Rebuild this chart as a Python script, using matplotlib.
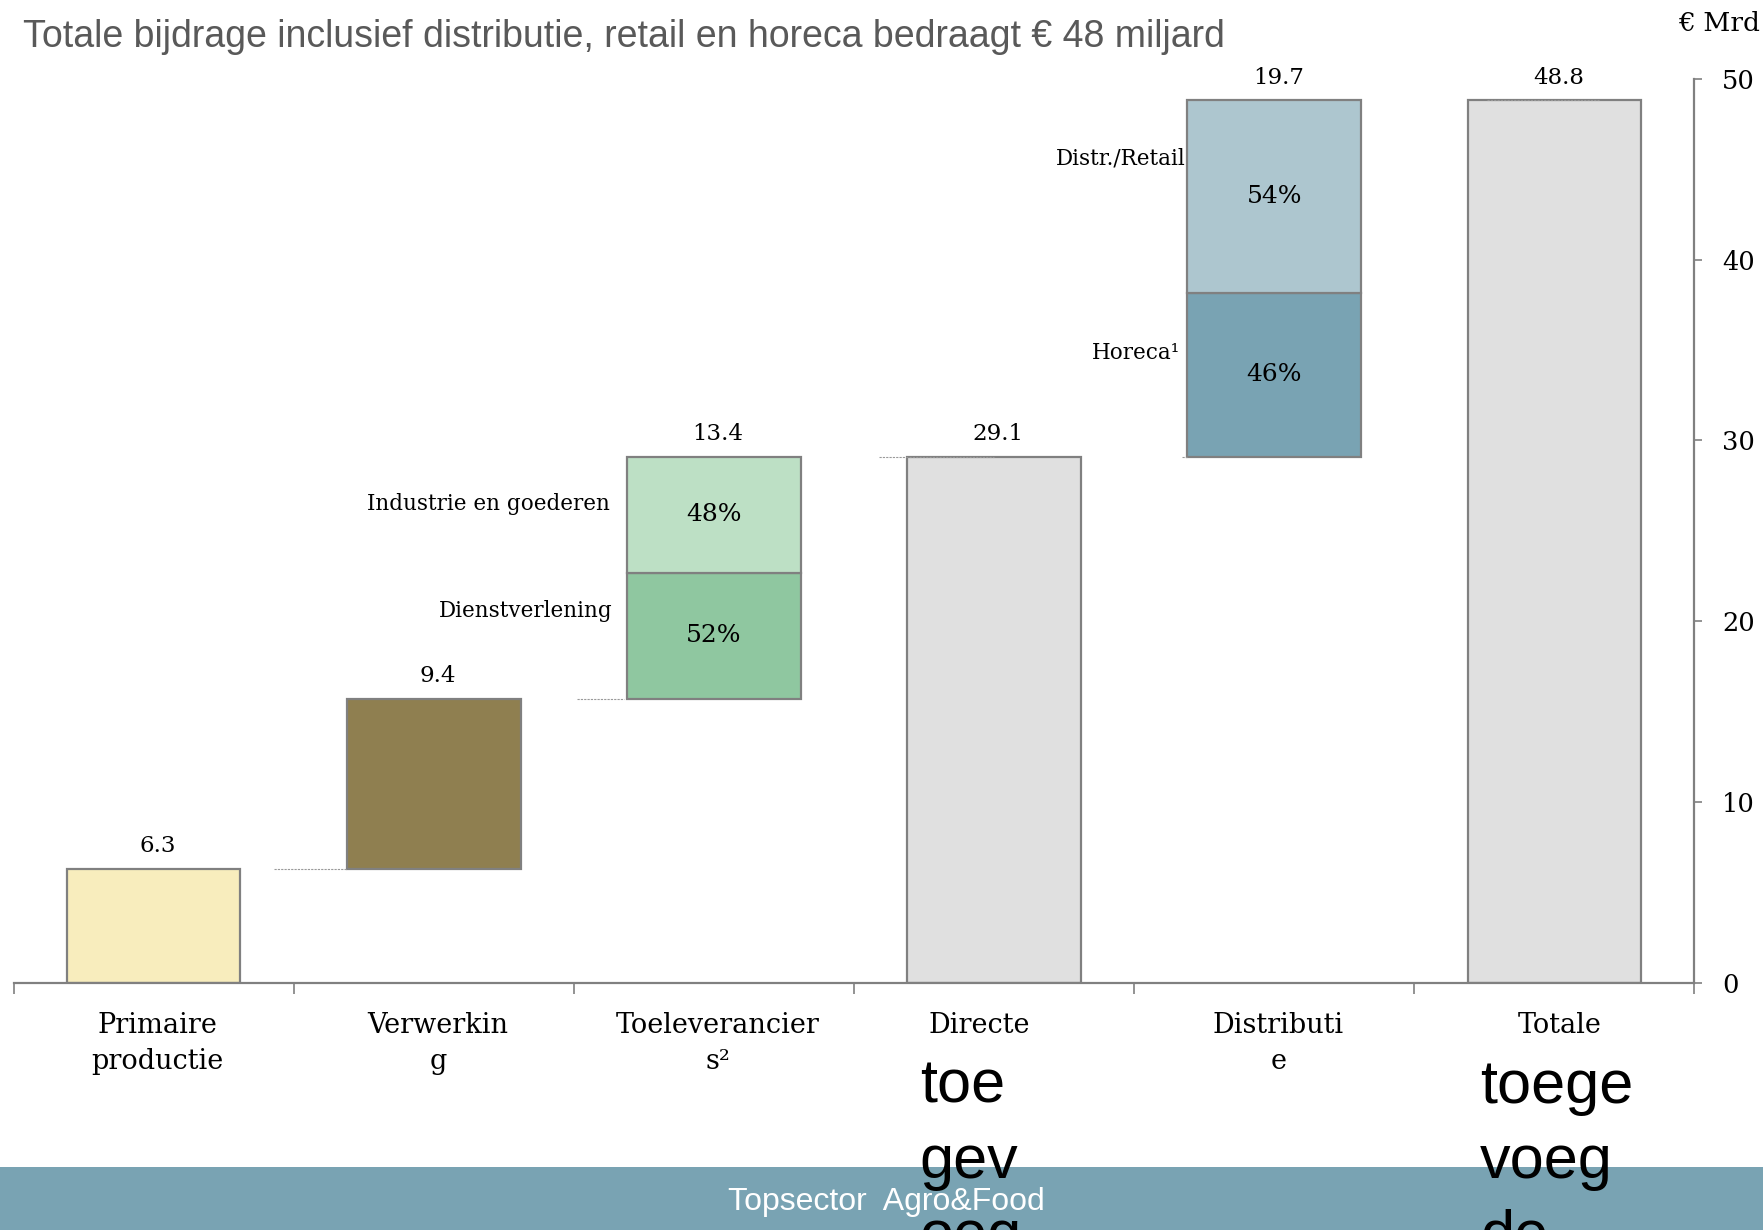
import matplotlib
matplotlib.use('Agg')
import numpy as np
import matplotlib.pyplot as plt
from matplotlib.patches import Rectangle

# data
categories = ["Primaire\nproductie", "Verwerkin\ng", "Toeleverancier\ns²", "Directe", "Distributi\ne", "Totale"]
values = [6.3, 9.4, 13.4, 29.1, 19.7, 48.8]
is_total = [False, False, False, True, False, True]
bar_colors = ["#F8EDBD", "#8F7F50", None, "#E0E0E0", None, "#E0E0E0"]

toelev_shares = [0.52, 0.48]          # bottom -> top
toelev_names = ["Dienstverlening", "Industrie en goederen"]
toelev_colors = ["#8FC7A0", "#BDE0C5"]
distr_shares = [0.46, 0.54]
distr_names = ["Horeca¹", "Distr./Retail"]
distr_colors = ["#79A3B3", "#ADC6CF"]

overflow_words = {3: ["toe", "gev", "oeg"], 5: ["toege", "voeg", "de"]}

title = "Totale bijdrage inclusief distributie, retail en horeca bedraagt € 48 miljard"
unit = "€ Mrd"
footer = "Topsector  Agro&Food"

# layout / style
W = 0.62
EDGE = "#808080"
SERIF = "DejaVu Serif"
SANS = "Liberation Sans"
split = {2: (toelev_shares, toelev_names, toelev_colors, [(0.05, 1.4), (0.06, 0.6)]),
         4: (distr_shares, distr_names, distr_colors, [(0.027, 1.2), (0.007, 2.1)])}
connector_spans = {1: (-0.57, -0.31), 2: (-0.49, -0.32), 3: (-0.41, 0.0), 4: (-0.33, -0.31), 5: (-0.24, 0.16)}
label_dx = [0.015, 0.015, 0.015, -0.053, 0.015, 0.02]

# waterfall bottoms
bottoms = []
running = 0
for v, tot in zip(values, is_total):
    if tot:
        bottoms.append(0)
        running = v
    else:
        bottoms.append(running)
        running += v
tops = [b + v for b, v in zip(bottoms, values)]

fig = plt.figure(figsize=(17.63, 12.30), dpi=100)
ax = fig.add_axes([0.0077, 0.2011, 0.9534, 0.7349])

x = np.arange(len(categories))
for i in x:
    if i in split:
        shares, names, cols, offs = split[i]
        b = bottoms[i]
        for s, n, c, (dx, dy) in zip(shares, names, cols, offs):
            h = values[i] * s
            ax.bar(i, h, bottom=b, width=W, color=c, edgecolor=EDGE, linewidth=1.6, zorder=2)
            ax.text(i, b + h / 2, f"{s * 100:.0f}%", ha="center", va="center",
                    fontsize=18, family=SERIF, zorder=4)
            ax.text(i - W / 2 - dx, b + h / 2 + dy, n, ha="right", va="center",
                    fontsize=15.5, family=SERIF, zorder=4)
            b += h
    else:
        ax.bar(i, values[i], bottom=bottoms[i], width=W, color=bar_colors[i],
               edgecolor=EDGE, linewidth=1.6, zorder=2)
    ax.text(i + 0.015, tops[i] + 1.25, f"{values[i]:.1f}", ha="center", va="center",
            fontsize=16.5, family=SERIF)

# dashed connectors from previous level
for i, (x0, x1) in connector_spans.items():
    ax.plot([i + x0, i + x1], [tops[i - 1], tops[i - 1]], color="#9A9A9A",
            linewidth=0.8, linestyle=(0, (2, 1)), zorder=3)

ax.set_xlim(-0.5, 5.5)
ax.set_ylim(0, 50)
for sp in ["top", "left"]:
    ax.spines[sp].set_visible(False)
for sp in ["bottom", "right"]:
    ax.spines[sp].set_color(EDGE)
    ax.spines[sp].set_linewidth(1.6)

ax.yaxis.tick_right()
ax.set_yticks(range(0, 51, 10))
ax.tick_params(axis="y", direction="out", length=5.8, width=1.2, color=EDGE, pad=14,
               labelsize=18.5)
for t in ax.get_yticklabels():
    t.set_family(SERIF)

ax.set_xticks([])
ax.set_xticks(np.arange(-0.5, 6, 1), minor=True)
ax.tick_params(axis="x", which="minor", direction="out", length=8, width=1.2, color=EDGE)

# category labels under the axis
xtr = ax.get_xaxis_transform()
for i, lab in enumerate(categories):
    ax.text(i + label_dx[i], -0.0323, lab, transform=xtr, ha="center", va="top",
            fontsize=19.5, family=SERIF, linespacing=1.42, clip_on=False)

# label text that runs over into the footer
for i, words in overflow_words.items():
    for k, w in enumerate(words):
        ax.text(i - 0.265, -0.133 - 0.083 * k, w, transform=xtr,
                ha="left", va="baseline", fontsize=44, family=SANS, clip_on=False, zorder=6)

fig.text(0.0128, 0.970, title, fontsize=27, family=SANS, color="#595959", va="center", ha="left")
fig.text(0.998, 0.981, unit, fontsize=19, family=SERIF, va="center", ha="right")

fig.add_artist(Rectangle((0, 0), 1, 0.0512, transform=fig.transFigure,
                         facecolor="#79A3B3", edgecolor="none", zorder=-1))
fig.text(0.503, 0.0228, footer, fontsize=23, family=SANS, color="white",
         ha="center", va="center", zorder=-0.5)

fig.savefig("out.png", dpi=100)
